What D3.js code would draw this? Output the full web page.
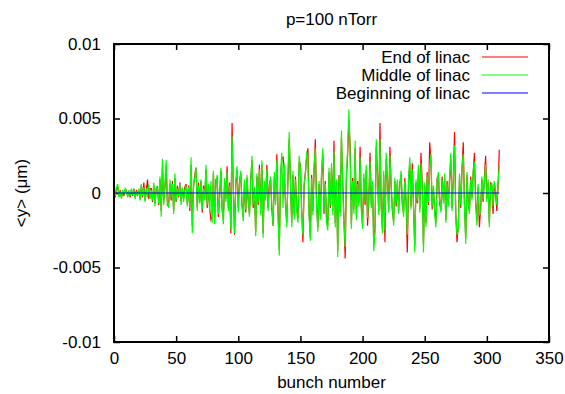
<!DOCTYPE html>
<html>
<head>
<meta charset="utf-8">
<script src="https://cdn.jsdelivr.net/npm/d3@7"></script>
<style>
  body { margin: 0; background: #fff; }
  text { font-family: "Liberation Sans", Arial, sans-serif; fill: #000; }
</style>
</head>
<body>
<svg id="chart" width="565" height="394"></svg>
<script>
// values are in units of 1e-3 um
const endOfLinac = [
  0.2, -0.3, 0.3, 0.4, -0.2, 0.2, -0.3, 0.1, -0.2, 0.2,
  0.2, -0.2, 0.1, -0.3, 0.2, -0.2, 0.3, -0.3, 0.2, -0.1,
  0.2, -0.4, 0.5, -0.3, 0.7, -0.5, 0.2, 0.9, -0.4, 0.3,
  0.3, -0.6, 0.5, -0.7, 0.3, 0.4, -0.8, 0.9, -1.2, 1.8,
  -0.6, 0.4, 1.8, -0.8, -0.7, 0.6, -0.5, 0.8, -1.2, 1.0,
  -0.6, 0.5, -0.3, 0.7, -0.6, 0.3, -0.4, 0.4, 0.6, -0.7,
  0.5, -1.2, 1.9, -2.2, 0.4, 1.2, 1.7, -1.0, 0.7, -0.6,
  0.8, -1.3, 0.5, -0.3, 1.6, -1.0, 0.5, -1.1, -1.8, -1.6,
  1.3, -1.8, 0.9, 1.0, -1.6, -0.2, 1.5, -1.1, -1.8, 0.8,
  -0.4, 1.8, -1.0, 0.7, -2.7, 4.7, 0.2, -2.8, 0.6, 1.5,
  -1.0, 0.8, 1.3, -0.9, -1.6, 0.7, -1.3, 1.0, -0.6, -1.4,
  0.9, 2.2, -1.0, 0.2, -2.6, 1.1, -0.8, 1.9, -1.3, 1.9,
  -2.7, 0.6, -0.3, 1.9, -1.0, 0.6, 0.9, -1.1, -2.2, 1.1,
  -0.6, 2.6, -1.2, -3.8, 1.0, 2.3, 2.4, 1.6, -0.8, -2.0,
  1.0, 3.6, 0.7, -2.0, 1.2, -1.5, 1.1, -1.0, -1.7, 2.1,
  1.9, -1.1, -3.3, 0.5, 1.4, 2.4, 3.0, -1.3, -3.0, 1.2,
  -1.2, 1.5, 3.6, -0.7, -2.3, 0.6, -1.5, 1.2, 2.6, -1.4,
  0.8, -1.7, -2.2, 1.4, -1.0, 1.7, -1.2, 3.5, -2.0, 0.7,
  -3.9, 1.2, -1.3, 3.7, 0.8, -1.7, -4.4, 1.0, 2.6, 4.9,
  3.2, -2.1, 1.0, -1.1, 3.0, -1.5, 0.8, -0.7, 3.1, -0.9,
  -2.1, 1.0, -0.8, 1.6, -2.2, -0.6, 2.7, -0.8, 0.6, -3.5,
  -2.3, 3.1, 1.4, -1.2, 4.7, -1.0, -2.4, 1.2, -3.3, 2.3,
  1.0, -1.1, 3.1, 0.4, -1.2, -1.9, 0.8, -0.9, 0.7, -1.2,
  0.7, 1.2, -0.8, -1.3, 1.0, -0.6, -4.0, 0.8, 2.0, -0.9,
  2.0, -1.0, -3.5, 0.7, -0.7, 1.6, -1.1, 2.7, 0.6, -3.5,
  0.5, -2.0, 1.4, -0.8, 3.4, 2.2, -1.1, 0.3, -1.2, -2.0,
  1.0, 1.2, -0.7, -1.1, 1.1, -0.5, 1.0, -1.8, 0.8, -0.7,
  0.9, 2.3, -1.0, 1.0, 4.1, -1.4, -3.3, -2.2, 1.1, -1.0,
  1.5, 3.4, -0.8, -3.0, 1.2, -0.8, -1.2, 1.1, -0.3, 1.3,
  2.7, -0.5, -1.9, 0.4, -2.3, -1.0, 0.9, -0.6, 1.0, 2.5,
  -0.4, 0.7, -2.0, 0.7, 0.5, -1.4, 0.6, 0.1, -1.2, 0.4,
  2.9
];

const middleOfLinac = [
  0.3, -0.2, 0.4, 0.6, -0.3, 0.1, -0.4, 0.2, -0.1, 0.3,
  0.1, -0.3, 0.2, -0.2, 0.3, -0.1, 0.2, -0.4, 0.1, -0.2,
  0.3, -0.5, 0.6, -0.2, 0.4, -0.6, 0.3, -0.3, 0.6, -0.4,
  0.2, -0.5, 0.7, -0.9, 0.4, 0.3, -0.7, 1.1, -1.6, 2.3,
  -0.8, 0.5, 2.2, -0.6, -1.0, 0.9, -0.3, 0.6, -1.4, 1.3,
  -0.5, 0.3, -0.2, 0.6, -0.8, 0.4, -0.6, 0.2, 0.5, -0.9,
  0.4, -1.0, 2.4, -2.7, 0.6, 1.0, 1.7, -1.2, 0.5, -0.7,
  0.9, -1.1, 0.3, -0.5, 1.9, -0.8, 0.6, -1.3, 0.8, -2.0,
  1.5, -2.1, 0.7, 1.2, -1.4, -0.3, 1.7, -0.9, -2.1, 1.0,
  -0.6, 1.4, -1.2, 0.5, -2.5, 3.8, 0.3, -2.7, 0.8, 1.8,
  -1.3, 0.6, 1.5, -0.7, -1.9, 0.9, -1.1, 1.2, -0.4, -1.6,
  0.7, 2.5, -0.8, 0.4, -2.9, 1.3, -0.6, 1.6, -1.5, 2.2,
  -3.0, 0.8, -0.5, 1.6, -1.2, 0.4, 1.1, -0.9, -2.2, 1.4,
  -0.8, 2.2, -1.5, -4.2, 1.2, 2.7, -1.0, 2.0, -0.6, -2.3,
  1.3, 4.1, 0.5, -2.3, 1.5, -1.8, 0.9, -1.2, -2.0, 2.5,
  1.6, -1.4, -2.8, 0.7, 1.2, 2.8, 2.2, -1.6, -3.2, 1.0,
  -1.5, 1.8, 3.0, -0.9, -2.6, 0.8, -1.8, 1.5, 3.0, -1.2,
  0.6, -2.0, -2.5, 1.7, -0.8, 2.0, -1.5, 2.8, -2.3, 0.9,
  -4.3, 1.0, -1.6, 4.2, 0.5, -2.0, -3.6, 1.2, 3.0, 5.6,
  2.6, -2.4, 0.8, -1.4, 3.5, -1.8, 0.6, -0.9, 2.4, -1.2,
  -2.4, 1.3, -0.6, 1.9, -1.7, -0.4, 2.1, -1.0, 0.8, -3.9,
  -2.6, 3.6, 1.1, -1.5, 3.6, -0.8, -2.7, 1.5, -2.5, 2.7,
  0.8, -1.3, 2.5, 0.6, -1.0, -2.2, 1.0, -0.7, 0.9, -1.4,
  0.5, 1.5, -0.6, -1.6, 0.8, -0.4, -2.8, 1.0, 2.4, -1.1,
  1.6, -0.8, -4.0, 0.9, -0.5, 1.9, -1.3, 2.0, 0.4, -4.0,
  0.7, -2.3, 1.2, -0.6, 1.8, 2.6, -0.9, 0.5, -1.4, -2.3,
  0.8, 1.4, -0.5, -1.3, 0.9, -0.7, 1.3, -2.0, 0.6, -0.9,
  1.1, 2.7, -1.2, 0.8, 3.2, -1.6, -2.8, -2.5, 1.3, -0.8,
  1.8, 2.6, -1.0, -3.4, 1.4, -0.6, -1.4, 0.9, -0.5, 1.5,
  2.1, -0.7, -2.2, 0.6, -1.5, -1.2, 1.1, -0.4, 0.8, 1.9,
  -0.6, 0.9, -2.3, 0.5, 0.7, -0.9, 0.8, 0.3, -0.8, 0.6,
  1.8
];

const beginningOfLinac = [0, 0];
const beginningBunches = [0, 310];

const xTicks = [0, 50, 100, 150, 200, 250, 300, 350];
const yTicks = [-10, -5, 0, 5, 10];
const yTickLabels = ['-0.01', '-0.005', '0', '0.005', '0.01'];

const series = [
  { name: 'End of linac', color: '#ff0000', values: endOfLinac.map((v, i) => [i, v]) },
  { name: 'Middle of linac', color: '#00ff00', values: middleOfLinac.map((v, i) => [i, v]) },
  { name: 'Beginning of linac', color: '#0000ff', values: beginningOfLinac.map((v, i) => [beginningBunches[i], v]) }
];

const svg = d3.select('#chart');
const plotLeft = 114, plotRight = 549, plotTop = 44, plotBottom = 342;

let xScale = d3.scaleLinear().domain([0, 350]).range([plotLeft, plotRight]);
let yScale = d3.scaleLinear().domain([-10, 10]).range([plotBottom, plotTop]);

const line = d3.line().x(d => xScale(d[0])).y(d => yScale(d[1]));

// axes: inward ticks mirrored on all four sides
const tickLen = 6;
svg.append('g').attr('transform', `translate(0, ${plotBottom})`)
  .call(d3.axisBottom(xScale).tickValues(xTicks).tickSizeInner(-tickLen).tickSizeOuter(0).tickPadding(10))
  .call(g => g.select('.domain').remove());
svg.append('g').attr('transform', `translate(0, ${plotTop})`)
  .call(d3.axisTop(xScale).tickValues(xTicks).tickSizeInner(-tickLen).tickSizeOuter(0).tickFormat(''))
  .call(g => g.select('.domain').remove());
svg.append('g').attr('transform', `translate(${plotLeft}, 0)`)
  .call(d3.axisLeft(yScale).tickValues(yTicks).tickSizeInner(-tickLen).tickSizeOuter(0).tickPadding(13)
    .tickFormat((d, i) => yTickLabels[i]))
  .call(g => g.select('.domain').remove());
svg.append('g').attr('transform', `translate(${plotRight}, 0)`)
  .call(d3.axisRight(yScale).tickValues(yTicks).tickSizeInner(-tickLen).tickSizeOuter(0).tickFormat(''))
  .call(g => g.select('.domain').remove());

svg.selectAll('.tick line').style('stroke', '#000').style('stroke-width', '1.5px');
svg.selectAll('.tick text').style('font-size', '17px').style('font-family', '"Liberation Sans", Arial, sans-serif');

// data lines
svg.append('g').selectAll('path.series')
  .data(series).enter().append('path')
  .attr('class', 'series')
  .attr('d', d => line(d.values))
  .style('fill', 'none')
  .style('stroke', d => d.color)
  .style('stroke-width', '1.2px');

// frame
svg.append('rect')
  .attr('x', plotLeft).attr('y', plotTop)
  .attr('width', plotRight - plotLeft).attr('height', plotBottom - plotTop)
  .style('fill', 'none').style('stroke', '#000').style('stroke-width', '2px');

// legend
const legend = svg.append('g').selectAll('g.key')
  .data(series).enter().append('g')
  .attr('class', 'key')
  .attr('transform', (d, i) => `translate(0, ${57 + i * 18})`);
legend.append('text')
  .attr('x', 470).attr('dy', '0.35em')
  .attr('text-anchor', 'end')
  .style('font-size', '17px')
  .text(d => d.name);
legend.append('line')
  .attr('x1', 482).attr('x2', 528)
  .style('stroke', d => d.color)
  .style('stroke-width', '1.2px');

// titles
svg.append('text')
  .attr('x', (plotLeft + plotRight) / 2).attr('y', 25)
  .attr('text-anchor', 'middle')
  .style('font-size', '17px')
  .text('p=100 nTorr');
svg.append('text')
  .attr('x', (plotLeft + plotRight) / 2).attr('y', 388)
  .attr('text-anchor', 'middle')
  .style('font-size', '17px')
  .text('bunch number');
svg.append('text')
  .attr('transform', `translate(27, ${(plotTop + plotBottom) / 2}) rotate(-90)`)
  .attr('text-anchor', 'middle')
  .style('font-size', '17px')
  .text('<y> (\u03bcm)');
</script>
</body>
</html>
